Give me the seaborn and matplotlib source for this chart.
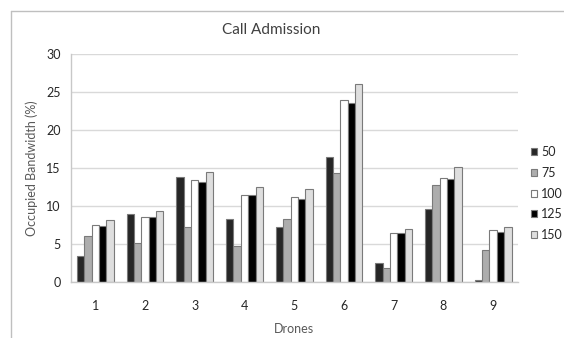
import numpy as np
import pandas as pd
import matplotlib
matplotlib.use("Agg")
import matplotlib.pyplot as plt
from matplotlib.lines import Line2D
from matplotlib.patches import Patch
import seaborn as sns

drones = ["1", "2", "3", "4", "5", "6", "7", "8", "9"]
series_names = ["50", "75", "100", "125", "150"]
bw_50 = [3.4, 9.0, 13.8, 8.3, 7.3, 16.4, 2.5, 9.6, 0.3]
bw_75 = [6.1, 5.1, 7.3, 4.8, 8.3, 14.4, 1.8, 12.8, 4.2]
bw_100 = [7.5, 8.6, 13.4, 11.5, 11.2, 24.0, 6.5, 13.7, 6.8]
bw_125 = [7.4, 8.5, 13.1, 11.4, 10.9, 23.5, 6.4, 13.5, 6.6]
bw_150 = [8.1, 9.4, 14.5, 12.5, 12.2, 26.1, 7.0, 15.1, 7.3]
colors = ["#262626", "#adadad", "#ffffff", "#000000", "#dedede"]

values = [bw_50, bw_75, bw_100, bw_125, bw_150]
df = pd.DataFrame({
    "Drones": np.tile(drones, len(series_names)),
    "Load": np.repeat(series_names, len(drones)),
    "Bandwidth": np.concatenate(values),
})

sns.set_theme(style="white")
plt.rcParams["font.family"] = ["Lato", "DejaVu Sans"]

fig = plt.figure(figsize=(5.64, 3.38), dpi=100)
ax = fig.add_axes([70.5 / 564, 1 - 282 / 338, (518 - 70.5) / 564, (282 - 54) / 338])

sns.barplot(data=df, x="Drones", y="Bandwidth", hue="Load", order=drones,
            hue_order=series_names, palette=colors, width=0.74, saturation=1,
            edgecolor="#7a7a7a", linewidth=0.8, errorbar=None, ax=ax, legend=False)

ax.set_ylim(0, 30)
ax.set_yticks(range(0, 31, 5))
ax.yaxis.grid(True, color="#d9d9d9", linewidth=1.0)
ax.set_axisbelow(True)
for side in ["top", "right"]:
    ax.spines[side].set_visible(False)
for side in ["left", "bottom"]:
    ax.spines[side].set_color("#c8c8c8")
    ax.spines[side].set_linewidth(1.0)
ax.tick_params(axis="both", length=0, labelsize=9, colors="#262626", pad=7)
ax.tick_params(axis="x", pad=13)
ax.set_xlabel("Drones", fontsize=9, color="#595959", labelpad=8)
ax.set_ylabel("Occupied Bandwidth (%)", fontsize=9, color="#595959", labelpad=6)

fig.text(271 / 564, 1 - 30 / 338, "Call Admission", ha="center", va="center",
         fontsize=11, color="#404040")

handles = [Patch(facecolor=c, edgecolor="#7a7a7a", linewidth=0.8) for c in colors]
fig.legend(handles, series_names, loc="upper left",
           bbox_to_anchor=(531 / 564, 1 - 146 / 338), frameon=False,
           fontsize=9, handlelength=0.5, handleheight=0.5, handletextpad=0.3,
           labelspacing=0.7, borderpad=0, borderaxespad=0)

# outer chart frame
fig.add_artist(Line2D([10.5 / 564, 10.5 / 564], [0, 1 - 10.5 / 338],
                      transform=fig.transFigure, color="#bfbfbf", linewidth=1))
fig.add_artist(Line2D([10.5 / 564, 1], [1 - 10.5 / 338, 1 - 10.5 / 338],
                      transform=fig.transFigure, color="#bfbfbf", linewidth=1))

fig.savefig("out.png", dpi=100)
